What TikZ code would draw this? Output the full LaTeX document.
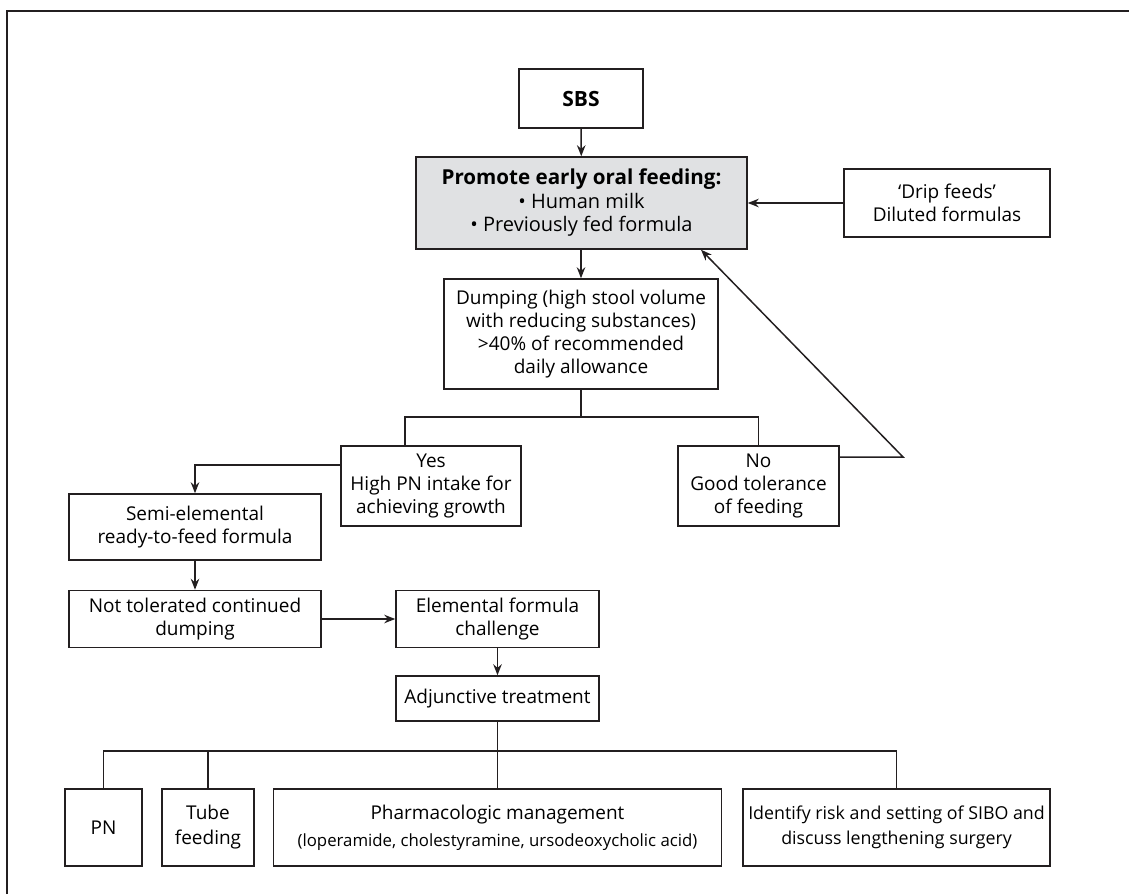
\documentclass[tikz,border=0pt]{standalone}
\usepackage{fontspec}
\setmainfont{Open Sans}
\usetikzlibrary{arrows.meta}
\definecolor{ink}{HTML}{231F20}
\definecolor{greyfill}{HTML}{E0E1E3}
\begin{document}
\begin{tikzpicture}[x=1pt,y=-1pt,
  box/.style={draw=ink, line width=1.5pt, align=center, inner sep=0pt, text=black,
    font=\fontsize{19}{23}\selectfont},
  conn/.style={draw=ink, line width=1.5pt},
  arr/.style={conn, -{Stealth[length=11pt,width=8.5pt]}}]
\useasboundingbox (0,0) rectangle (1129,894);
\draw[conn, line width=2pt] (7,894) -- (7,11) -- (1129,11);

\node[box, minimum width=124pt, minimum height=59pt, font=\fontsize{21}{25}\selectfont\bfseries] (sbs) at (581,98.5) {SBS};
\node[box, fill=greyfill, minimum width=331pt, minimum height=92pt, font=\fontsize{20}{23.5}\selectfont] (prom) at (581.5,203)
  {{\fontsize{20.6}{23.5}\selectfont\bfseries Promote early oral feeding:}\\ • Human milk\\ • Previously fed formula};
\node[box, minimum width=206pt, minimum height=68pt] (drip) at (947,203) {‘Drip feeds’\\ Diluted formulas};
\node[box, minimum width=274pt, minimum height=110pt] (dump) at (581,334)
  {Dumping (high stool volume\\ with reducing substances)\\ >40\% of recommended\\ daily allowance};
\node[box, minimum width=180pt, minimum height=80pt] (yes) at (431,486) {Yes\\ High PN intake for\\ achieving growth};
\node[box, minimum width=161pt, minimum height=80pt] (no) at (758.5,486) {No\\ Good tolerance\\ of feeding};
\node[box, minimum width=252pt, minimum height=66pt] (semi) at (195,527) {Semi-elemental\\ ready-to-feed formula};
\node[box, minimum width=252pt, minimum height=57pt] (nottol) at (195,619) {Not tolerated continued\\ dumping};
\node[box, minimum width=203pt, minimum height=57pt] (elem) at (497.5,619) {Elemental formula\\ challenge};
\node[box, minimum width=203pt, minimum height=45pt] (adj) at (497.5,698.5) {Adjunctive treatment};
\node[box, minimum width=77pt, minimum height=77pt] (pn) at (103.5,827.5) {PN};
\node[box, minimum width=92pt, minimum height=77pt, font=\fontsize{19}{25}\selectfont] (tube) at (208,827.5) {Tube\\ feeding};
\node[box, minimum width=448pt, minimum height=77pt, font=\fontsize{19}{27}\selectfont] (pharm) at (497.5,827.5)
  {Pharmacologic management\\ {\fontsize{16.8}{27}\selectfont (loperamide, cholestyramine, ursodeoxycholic acid)}};
\node[box, minimum width=307pt, minimum height=77pt, font=\fontsize{17.8}{25}\selectfont] (ident) at (896.5,827.5)
  {Identify risk and setting of SIBO and\\ discuss lengthening surgery};

\coordinate (sp1) at (581,417);
\coordinate (bend) at (903,457);
\coordinate (sp2) at (497.5,751);

\draw[arr] (sbs) -- (prom);
\draw[arr] (drip.west) -- (drip.west -| prom.east);
\draw[arr] (prom.south -| dump.north) -- (dump.north);
\draw[conn] (dump.south) -- (sp1);
\draw[conn] ([xshift=-26pt]yes.north) |- (sp1) -| (no.north);
\draw[arr] ([yshift=29pt]no.east) -- (bend) -- ([xshift=119.5pt]prom.south);
\draw[arr] ([yshift=21pt]yes.west) -| (semi.north);
\draw[arr] (semi) -- (nottol);
\draw[arr] (nottol.east) -- (nottol.east -| elem.west);
\draw[arr] (elem) -- (adj);
\draw[conn] (adj.south) -- (sp2);
\draw[conn] (pn.north) |- (sp2) -| (ident.north);
\draw[conn] (tube.north) -- (tube.north |- sp2);
\draw[conn] (pharm.north) -- (sp2);
\end{tikzpicture}
\end{document}
